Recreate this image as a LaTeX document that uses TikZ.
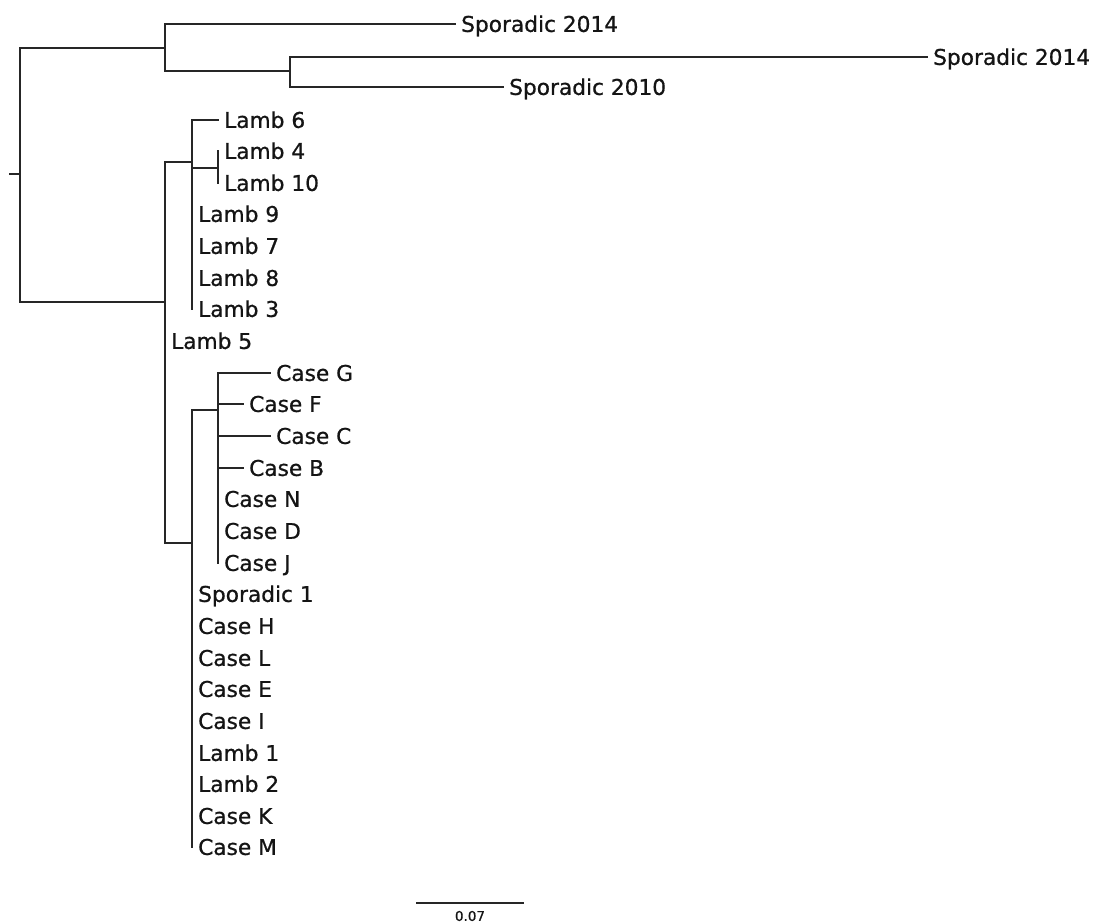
\documentclass[tikz,border=0pt]{standalone}
\usepackage{fontspec}
\setmainfont[FakeBold=0.8]{DejaVu Sans}
\begin{document}
\begin{tikzpicture}[x=1pt,y=-1pt,
  branch/.style={line width=1.9pt, draw=black!85, line cap=rect},
  leaf/.style={anchor=west, inner xsep=6pt, inner ysep=0pt, text height=15.8pt, text depth=0pt,
    font=\fontsize{21.7}{26}\selectfont, text=black!92},
  scalelabel/.style={inner sep=0pt, text height=9.8pt, text depth=0pt,
    font=\fontsize{13.5}{16}\selectfont, text=black!92}]
\useasboundingbox (0,0) rectangle (1096,923);
% internal nodes
\coordinate (stub) at (10,174);
\coordinate (root) at (20,174);
\coordinate (ns) at (165,48);
\coordinate (ns2) at (290,71);
\coordinate (nl) at (165,302);
\coordinate (lc) at (192,162);
\coordinate (l410) at (218,168);
\coordinate (cc) at (192,543);
\coordinate (cs) at (218,410);
% leaves
\node[leaf] (s14a) at (455,24) {Sporadic 2014};
\node[leaf] (s14b) at (927,57) {Sporadic 2014};
\node[leaf] (s10) at (503,87) {Sporadic 2010};
\node[leaf] (l6) at (218,120) {Lamb 6};
\node[leaf] (l4) at (218,151) {Lamb 4};
\node[leaf] (l10) at (218,183) {Lamb 10};
\node[leaf] (l9) at (192,214) {Lamb 9};
\node[leaf] (l7) at (192,246) {Lamb 7};
\node[leaf] (l8) at (192,278) {Lamb 8};
\node[leaf] (l3) at (192,309) {Lamb 3};
\node[leaf] (l5) at (165,341) {Lamb 5};
\node[leaf] (cG) at (270,373) {Case G};
\node[leaf] (cF) at (243,404) {Case F};
\node[leaf] (cC) at (270,436) {Case C};
\node[leaf] (cB) at (243,468) {Case B};
\node[leaf] (cN) at (218,499) {Case N};
\node[leaf] (cD) at (218,531) {Case D};
\node[leaf] (cJ) at (218,563) {Case J};
\node[leaf] (sp1) at (192,594) {Sporadic 1};
\node[leaf] (cH) at (192,626) {Case H};
\node[leaf] (cL) at (192,658) {Case L};
\node[leaf] (cE) at (192,689) {Case E};
\node[leaf] (cI) at (192,721) {Case I};
\node[leaf] (lb1) at (192,753) {Lamb 1};
\node[leaf] (lb2) at (192,784) {Lamb 2};
\node[leaf] (cK) at (192,816) {Case K};
\node[leaf] (cM) at (192,847) {Case M};
% branches
\draw[branch] (stub) -- (root);
\draw[branch] (root) |- (ns);
\draw[branch] (root) |- (nl);
\draw[branch] (ns) |- (s14a.west);
\draw[branch] (ns) |- (ns2);
\draw[branch] (ns2) |- (s14b.west);
\draw[branch] (ns2) |- (s10.west);
\draw[branch] (nl) |- (lc);
\draw[branch] (nl) |- (l5.west);
\draw[branch] (nl) |- (cc);
\draw[branch] (lc) |- (l6.west);
\draw[branch] (lc) |- (l410);
\draw[branch] (l410) |- (l4.west);
\draw[branch] (l410) |- (l10.west);
\foreach \n in {l9,l7,l8,l3} \draw[branch] (lc) |- (\n.west);
\draw[branch] (cc) |- (cs);
\foreach \n in {cG,cF,cC,cB,cN,cD,cJ} \draw[branch] (cs) |- (\n.west);
\foreach \n in {sp1,cH,cL,cE,cI,lb1,lb2,cK,cM} \draw[branch] (cc) |- (\n.west);
% scale bar
\coordinate (sb1) at (417,903);
\coordinate (sb2) at (523,903);
\draw[branch] (sb1) -- (sb2);
\node[scalelabel] (sbl) at (470,916) {0.07};
\end{tikzpicture}
\end{document}
